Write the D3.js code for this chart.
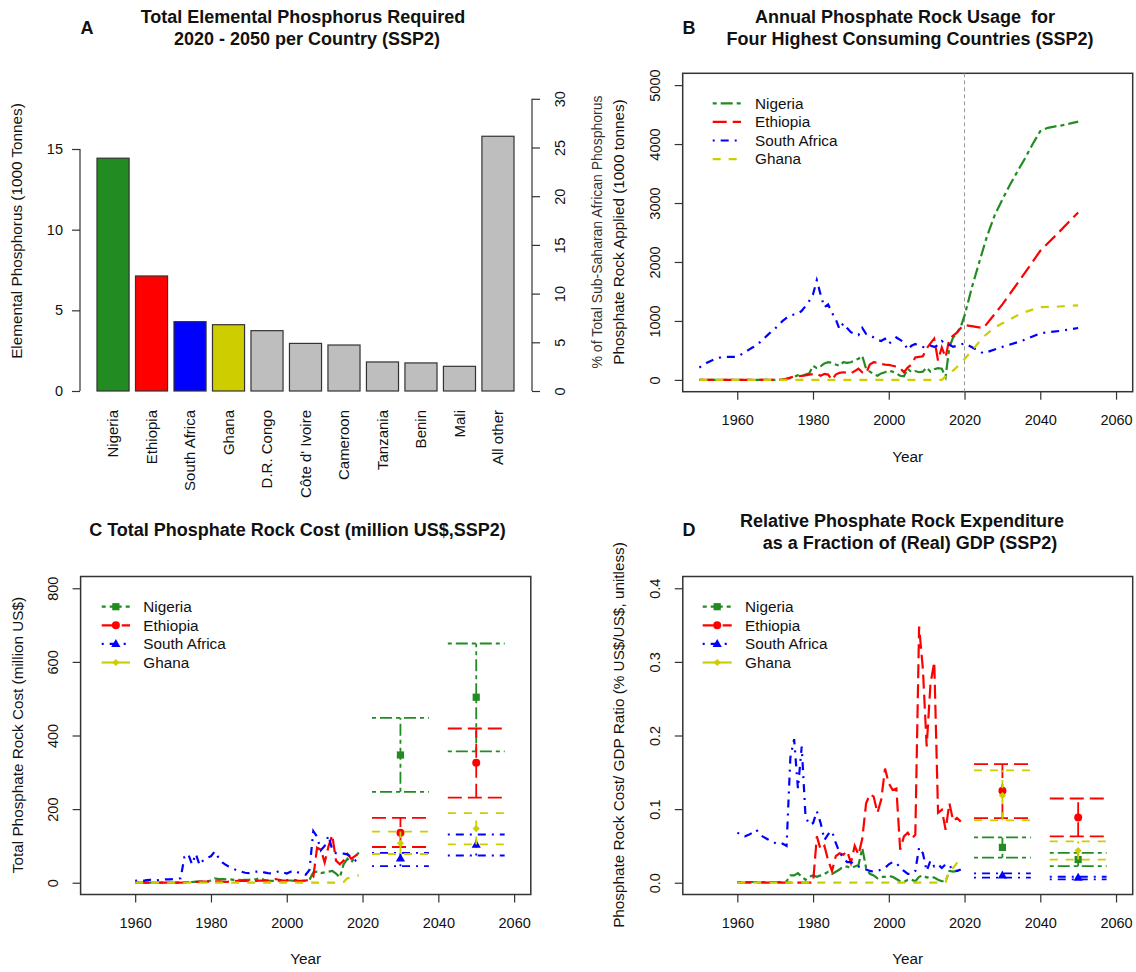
<!DOCTYPE html>
<html><head><meta charset="utf-8">
<script src="https://cdn.jsdelivr.net/npm/d3@7"></script>
<style>
body{margin:0;background:#fff}
svg{font-family:"Liberation Sans",Arial,sans-serif}
text{fill:#111}
</style></head><body>
<svg id="c" width="1136" height="972"></svg>
<script>
// ---------------- DATA ----------------
const countries = ["Nigeria","Ethiopia","South Africa","Ghana"];
// Panel A
const barCategories = ["Nigeria","Ethiopia","South Africa","Ghana","D.R. Congo","Côte d' Ivoire","Cameroon","Tanzania","Benin","Mali","All other"];
const barValues = [14.43,7.13,4.30,4.11,3.74,2.95,2.85,1.80,1.74,1.53,15.79];
const barLeftTicks = [0,5,10,15];
const barRightTicks = [0,5,10,15,20,25,30];

// Panel B (1000 tonnes), historical 1950-2019
const histYearsB = d3.range(1950, 2020);
const nigeriaB = [0,0,0,0,0,0,0,0,0,0, 0,0,0,0,0,0,0,0,0,0, 0,0,
  10,20,30,50,80,70,90,110,240,200, 230,280,300,290,260,240,300,290,300,330,
  360,410,190,140,100,70,110,130,160,140, 110,70,60,190,130,150,130,140,210,140,
  180,200,190,50,560,720,800,900];
const ethiopiaB = [0,0,0,0,0,0,0,0,0,0, 0,0,0,0,0,0,0,0,0,0, 0,0,0,
  20,40,55,60,70,75,90,100,100,70, 100,90,0,90,120,130,120,110,150,190,
  130,110,260,300,290,270,260,255,240,225, 200,130,210,260,380,390,400,530,620,700,
  330,550,380,700,750,800,880];
const southAfricaB = [210,250,290,320,350,370,390,390,390,390,
  395,430,470,510,550,580,640,700,760,820,
  870,940,1000,1050,1090,1110,1120,1170,1250,1340,
  1450,1690,1450,1230,1280,1140,1030,860,960,880,
  810,780,760,880,780,760,720,680,660,700,
  610,670,720,680,640,510,580,610,580,560,
  550,580,560,590,660,610,600,560,580,600];
const ghanaB = [0,0,0,0,0,0,0,0,0,0, 0,0,0,0,0,0,0,0,0,0, 0,0,0,0,0,0,0,0,0,0,
  0,0,0,0,0,0,0,0,0,0, 0,0,0,0,0,0,0,0,0,0, 0,0,0,0,0,0,0,0,0,0,
  0,0,0,0,0,60,130,160,220,290];
// Panel B projections
const nigeriaProjYears = [2020,2022,2024,2026,2028,2030,2032,2034,2036,2038,2040,2042,2044,2046,2048,2050];
const nigeriaProj = [1090,1580,2020,2450,2800,3060,3310,3540,3760,4000,4220,4275,4300,4320,4350,4380];
const ethiopiaProjYears = [2020,2025,2030,2035,2040,2045,2050];
const ethiopiaProj = [930,880,1280,1730,2190,2510,2840];
const southAfricaProjYears = [2020,2025,2030,2035,2040,2045,2050];
const southAfricaProj = [620,450,560,660,790,830,880];
const ghanaProjYears = [2020,2022,2025,2028,2030,2035,2040,2045,2050];
const ghanaProj = [355,500,730,890,960,1130,1235,1245,1265];
const yTicksB = [0,1000,2000,3000,4000,5000];
const xTicks = [1960,1980,2000,2020,2040,2060];

// Panel C (million US$), 1960-2019
const histYearsCD = d3.range(1960, 2020);
const nigeriaC = [0,0,0,0,0,0,0,0,0,0, 0,0,0,1,2,2,3,3,3,4,
  6,12,10,10,9,9,8,8,7,8, 8,9,10,12,8,6,5,5,5,6,
  6,6,5,4,5,6,8,28,30,26, 28,30,32,25,14,50,65,55,70,82];
const ethiopiaC = [0,0,0,0,0,0,0,0,0,0, 0,0,0,1,2,2,2,3,3,3,
  3,4,4,3,2,3,4,5,5,5, 5,4,5,6,5,6,9,10,8,6,
  6,11,8,5,5,6,8,15,95,90, 55,98,130,60,50,60,78,65,72,80];
const southAfricaC = [5,6,5,7,8,6,7,8,9,9, 10,11,12,70,78,50,78,48,62,68,
  72,85,68,55,48,42,38,32,30,27, 26,28,30,32,28,26,25,27,32,28,
  25,30,33,28,25,22,35,140,125,88, 100,128,90,80,78,79,77,70,62,48];
const ghanaC = [0,0,0,0,0,0,0,0,0,0, 0,0,0,0,0,0,0,0,0,0,
  0,0,0,0,0,0,0,0,0,0, 0,0,0,0,0,0,0,0,0,0,
  0,0,0,0,0,0,0,0,0,0, 0,0,0,0,0,2,12,14,17,20];
const projYearsCD = [2030,2050];
const nigeriaCmid = [347,504], nigeriaClo = [247,357], nigeriaChi = [448,650];
const ethiopiaCmid = [136,326], ethiopiaClo = [97,231], ethiopiaChi = [176,419];
const southAfricaCmid = [66,103], southAfricaClo = [45,74], southAfricaChi = [81,131];
const ghanaCmid = [107,147], ghanaClo = [78,104], ghanaChi = [139,189];
const yTicksC = [0,200,400,600,800];

// Panel D (ratio), 1960-2019
const nigeriaD = [0.001,0.001,0.001,0.001,0.001,0.001,0.001,0.001,0.001,0.001,
  0.001,0.001,0.001,0.002,0.010,0.010,0.013,0.008,0.004,0.008,
  0.010,0.008,0.010,0.012,0.015,0.012,0.015,0.018,0.022,0.022,
  0.020,0.022,0.024,0.047,0.020,0.012,0.010,0.006,0.008,0.008,
  0.009,0.008,0.005,0.002,0.001,0.004,0.004,0.002,0.008,0.010,
  0.007,0.008,0.007,0.004,0.002,0.002,0.016,0.015,0.016,0.018];
const ethiopiaD = [0,0,0,0,0,0,0,0,0,0, 0,0,0,0,0,0,0,0,0,0,
  0,0.063,0.045,0.050,0.030,0.016,0.036,0.040,0.038,0.043,
  0.027,0.050,0.038,0.060,0.108,0.120,0.117,0.095,0.113,0.155,
  0.135,0.126,0.128,0.045,0.063,0.068,0.060,0.065,0.348,0.290,
  0.185,0.270,0.300,0.095,0.099,0.072,0.108,0.084,0.088,0.083];
const southAfricaD = [0.068,0.065,0.063,0.065,0.068,0.072,0.065,0.062,0.059,0.056,
  0.054,0.052,0.053,0.050,0.170,0.195,0.128,0.185,0.090,0.079,
  0.081,0.097,0.081,0.058,0.066,0.070,0.054,0.041,0.034,0.028,
  0.028,0.025,0.022,0.020,0.018,0.016,0.015,0.016,0.018,0.020,
  0.025,0.028,0.027,0.020,0.016,0.012,0.012,0.016,0.048,0.040,
  0.016,0.030,0.022,0.025,0.020,0.025,0.024,0.016,0.016,0.018];
const ghanaD = [0,0,0,0,0,0,0,0,0,0, 0,0,0,0,0,0,0,0,0,0,
  0,0,0,0,0,0,0,0,0,0, 0,0,0,0,0,0,0,0,0,0,
  0,0,0,0,0,0,0,0,0,0, 0,0,0,0,0,0.001,0.017,0.020,0.027,0.033];
const nigeriaDmid = [0.048,0.0315], nigeriaDlo = [0.034,0.0225], nigeriaDhi = [0.0617,0.0405];
const ethiopiaDmid = [0.125,0.0887], ethiopiaDlo = [0.0878,0.063], ethiopiaDhi = [0.161,0.1144];
const southAfricaDmid = [0.0099,0.0068], southAfricaDlo = [0.0068,0.0045], southAfricaDhi = [0.0126,0.0081];
const ghanaDmid = [0.1185,0.0437], ghanaDlo = [0.0847,0.0315], ghanaDhi = [0.1527,0.0563];
const yTicksD = [0,0.1,0.2,0.3,0.4];

// ---------------- STYLE ----------------
const COL = {"Nigeria":"#228B22","Ethiopia":"#FF0000","South Africa":"#0000FF","Ghana":"#CDCD00"};
const DASH = {"Nigeria":"4,4,12,4","Ethiopia":"14,6","South Africa":"2,6,8,6","Ghana":"8,8"};
const barFill = ["#228B22","#FF0000","#0000FF","#CDCD00","#BEBEBE","#BEBEBE","#BEBEBE","#BEBEBE","#BEBEBE","#BEBEBE","#BEBEBE"];
const FS_TICK = 14.5, FS_LAB = 15.3, FS_TITLE = 18;
const svg = d3.select("#c");

function ext(lim){const d=(lim[1]-lim[0])*0.04;return [lim[0]-d, lim[1]+d];}

function txt(x,y,s,opt={}){
  const t = svg.append("text").attr("x",x).attr("y",y).text(s)
    .style("font-size",(opt.size||FS_LAB)+"px")
    .attr("text-anchor",opt.anchor||"middle");
  if(opt.bold) t.style("font-weight","bold");
  if(opt.rot) t.attr("transform",`rotate(-90,${x},${y})`).attr("dy","0.35em");
  if(opt.pre) t.style("white-space","pre");
  if(opt.fill) t.style("fill",opt.fill);
  return t;
}

function styleAxis(g){
  g.selectAll(".tick line").attr("stroke","#333").attr("stroke-width",1.2);
  g.selectAll(".tick text").style("font-size",FS_TICK+"px").style("font-family","Liberation Sans, Arial, sans-serif").attr("fill","#111");
}

// ---------------- PANEL A ----------------
const xA = d3.scaleBand().domain(barCategories).range([97,514]).paddingInner(0.2/1.2).paddingOuter(0);
const yA = d3.scaleLinear().domain([0,15]).range([391,149]);
const totalA = d3.sum(barValues);
const yAR = d3.scaleLinear().domain([0,100]).range([yA(0), yA(totalA)]);
const gA = svg.append("g");
gA.selectAll("rect").data(barValues).join("rect")
  .attr("x",(d,i)=>xA(barCategories[i])).attr("width",xA.bandwidth())
  .attr("y",d=>yA(d)).attr("height",d=>yA(0)-yA(d))
  .attr("fill",(d,i)=>barFill[i]).attr("stroke","#333").attr("stroke-width",1.2);
const axA = gA.append("g").attr("transform","translate(80,0)")
  .call(d3.axisLeft(yA).tickValues(barLeftTicks).tickSize(8).tickPadding(9).tickSizeOuter(0));
axA.select(".domain").remove();
axA.append("line").attr("x1",0).attr("x2",0).attr("y1",yA(0)).attr("y2",yA(15)).attr("stroke","#333").attr("stroke-width",1.2);
styleAxis(axA);
const axAR = gA.append("g").attr("transform","translate(532,0)")
  .call(d3.axisRight(yAR).tickValues(barRightTicks).tickSize(8).tickSizeOuter(0));
axAR.select(".domain").remove();
axAR.append("line").attr("x1",0).attr("x2",0).attr("y1",yAR(0)).attr("y2",yAR(30)).attr("stroke","#333").attr("stroke-width",1.2);
styleAxis(axAR);
axAR.selectAll(".tick text").attr("x",0).attr("y",28).attr("dy","0.35em").attr("transform","rotate(-90)").style("text-anchor","middle");
barCategories.forEach((c,i)=>{
  const cx = xA(c)+xA.bandwidth()/2;
  svg.append("text").text(c).attr("transform",`translate(${cx},410) rotate(-90)`)
    .attr("dy","0.35em").attr("text-anchor","end").style("font-size","15px");
});
txt(87,34,"A",{bold:true,size:FS_TITLE});
txt(303,23,"Total Elemental Phosphorus Required",{bold:true,size:FS_TITLE});
txt(307,45,"2020 - 2050 per Country (SSP2)",{bold:true,size:FS_TITLE});
txt(17,231,"Elemental Phosphorus (1000 Tonnes)",{rot:true});
txt(597,232,"% of Total Sub-Saharan African Phosphorus",{rot:true,size:14,fill:"#333"});

// ---------------- generic framed panel ----------------
function frame(box, xlim, ylim, yTicks, yFmt){
  const x = d3.scaleLinear().domain(ext(xlim)).range([box.x0, box.x1]);
  const y = d3.scaleLinear().domain(ext(ylim)).range([box.y1, box.y0]);
  const g = svg.append("g");
  const ax = g.append("g").attr("transform",`translate(0,${box.y1})`)
    .call(d3.axisBottom(x).tickValues(xTicks).tickFormat(d3.format("d")).tickSize(8).tickSizeOuter(0));
  ax.select(".domain").remove(); styleAxis(ax);
  ax.selectAll(".tick text").attr("y",28).attr("dy","0.35em");
  const ay = g.append("g").attr("transform",`translate(${box.x0},0)`)
    .call(d3.axisLeft(y).tickValues(yTicks).tickFormat(yFmt).tickSize(8).tickSizeOuter(0));
  ay.select(".domain").remove(); styleAxis(ay);
  ay.selectAll(".tick text").attr("x",0).attr("y",-28).attr("dy","0.35em").attr("transform","rotate(-90)").style("text-anchor","middle");
  g.append("rect").attr("x",box.x0).attr("y",box.y0).attr("width",box.x1-box.x0).attr("height",box.y1-box.y0)
    .attr("fill","none").attr("stroke","#333").attr("stroke-width",1.5);
  return {x,y,g};
}
function seriesLine(P, xs, ys, c){
  const pts = xs.map((v,i)=>[v,ys[i]]);
  P.g.append("path").attr("d", d3.line().x(d=>P.x(d[0])).y(d=>P.y(d[1]))(pts))
    .attr("fill","none").attr("stroke",COL[c]).attr("stroke-width",2.2).attr("stroke-dasharray",DASH[c]);
}
function marker(g, c, cx, cy){
  if(c==="Nigeria") g.append("rect").attr("x",cx-3.6).attr("y",cy-3.6).attr("width",7.2).attr("height",7.2).attr("fill",COL[c]);
  else if(c==="Ethiopia") g.append("circle").attr("cx",cx).attr("cy",cy).attr("r",4).attr("fill",COL[c]);
  else if(c==="South Africa") g.append("path").attr("d",`M${cx},${cy-5}L${cx+4.6},${cy+3}L${cx-4.6},${cy+3}Z`).attr("fill",COL[c]);
  else g.append("path").attr("d",`M${cx},${cy-3.6}L${cx+3.6},${cy}L${cx},${cy+3.6}L${cx-3.6},${cy}Z`).attr("fill",COL[c]);
}
function errBars(P, c, mid, lo, hi){
  projYearsCD.forEach((yr,i)=>{
    const st = l=>l.attr("stroke",COL[c]).attr("stroke-width",1.8).attr("stroke-dasharray",DASH[c]).attr("fill","none");
    st(P.g.append("line").attr("x1",P.x(yr)).attr("x2",P.x(yr)).attr("y1",P.y(lo[i])).attr("y2",P.y(hi[i])));
    st(P.g.append("line").attr("x1",P.x(yr-7.5)).attr("x2",P.x(yr+7.5)).attr("y1",P.y(hi[i])).attr("y2",P.y(hi[i])));
    st(P.g.append("line").attr("x1",P.x(yr-7.5)).attr("x2",P.x(yr+7.5)).attr("y1",P.y(lo[i])).attr("y2",P.y(lo[i])));
    marker(P.g, c, P.x(yr), P.y(mid[i]));
  });
}
function legend(x0, x1, xt, y0, withMarkers){
  countries.forEach((c,i)=>{
    const yy = y0 + i*18.6;
    svg.append("line").attr("x1",x0).attr("x2",x1).attr("y1",yy).attr("y2",yy)
      .attr("stroke",COL[c]).attr("stroke-width",2.2)
      .attr("stroke-dasharray",(withMarkers && c==="Ghana") ? null : DASH[c]);
    if(withMarkers) marker(svg, c, (x0+x1)/2, yy);
    txt(xt, yy, c, {anchor:"start"}).attr("dy","0.35em");
  });
}

// ---------------- PANEL B ----------------
const PB = frame({x0:682.7,x1:1132.7,y0:73.3,y1:391.7},[1950,2060],[0,5000],yTicksB,d3.format("d"));
PB.g.append("line").attr("x1",PB.x(2020)).attr("x2",PB.x(2020)).attr("y1",73.3).attr("y2",391.7)
  .attr("stroke","#999").attr("stroke-width",1).attr("stroke-dasharray","4,3");
seriesLine(PB, histYearsB.concat(nigeriaProjYears), nigeriaB.concat(nigeriaProj), "Nigeria");
seriesLine(PB, histYearsB.concat(ethiopiaProjYears), ethiopiaB.concat(ethiopiaProj), "Ethiopia");
seriesLine(PB, histYearsB.concat(southAfricaProjYears), southAfricaB.concat(southAfricaProj), "South Africa");
seriesLine(PB, histYearsB.concat(ghanaProjYears), ghanaB.concat(ghanaProj), "Ghana");
legend(712.7, 741, 755, 103.3, false);
txt(689,34,"B",{bold:true,size:FS_TITLE});
txt(905,23,"Annual Phosphate Rock Usage  for",{bold:true,size:FS_TITLE,pre:true});
txt(910,45,"Four Highest Consuming Countries (SSP2)",{bold:true,size:FS_TITLE});
txt(618.5,232,"Phosphate Rock Applied (1000 tonnes)",{rot:true});
txt(907.7,462,"Year");

// ---------------- PANEL C ----------------
const PC = frame({x0:80.6,x1:530.8,y0:576.5,y1:894.5},[1950,2060],[0,800],yTicksC,d3.format("d"));
seriesLine(PC, histYearsCD, nigeriaC, "Nigeria");
seriesLine(PC, histYearsCD, ethiopiaC, "Ethiopia");
seriesLine(PC, histYearsCD, southAfricaC, "South Africa");
seriesLine(PC, histYearsCD, ghanaC, "Ghana");
errBars(PC, "Nigeria", nigeriaCmid, nigeriaClo, nigeriaChi);
errBars(PC, "Ethiopia", ethiopiaCmid, ethiopiaClo, ethiopiaChi);
errBars(PC, "South Africa", southAfricaCmid, southAfricaClo, southAfricaChi);
errBars(PC, "Ghana", ghanaCmid, ghanaClo, ghanaChi);
legend(101.7, 130, 143.3, 606.7, true);
txt(297.5,536,"C Total Phosphate Rock Cost (million US$,SSP2)",{bold:true,size:FS_TITLE});
txt(17.3,735,"Total Phosphate Rock Cost (million US$)",{rot:true});
txt(305.7,964,"Year");

// ---------------- PANEL D ----------------
const PD = frame({x0:682.8,x1:1132.7,y0:576.5,y1:894.5},[1950,2060],[0,0.4],yTicksD,d3.format(".1f"));
seriesLine(PD, histYearsCD, nigeriaD, "Nigeria");
seriesLine(PD, histYearsCD, ethiopiaD, "Ethiopia");
seriesLine(PD, histYearsCD, southAfricaD, "South Africa");
seriesLine(PD, histYearsCD, ghanaD, "Ghana");
errBars(PD, "Nigeria", nigeriaDmid, nigeriaDlo, nigeriaDhi);
errBars(PD, "Ethiopia", ethiopiaDmid, ethiopiaDlo, ethiopiaDhi);
errBars(PD, "South Africa", southAfricaDmid, southAfricaDlo, southAfricaDhi);
errBars(PD, "Ghana", ghanaDmid, ghanaDlo, ghanaDhi);
legend(702.7, 731.7, 745, 606.7, true);
txt(689,536,"D",{bold:true,size:FS_TITLE});
txt(902,527,"Relative Phosphate Rock Expenditure",{bold:true,size:FS_TITLE});
txt(910,549,"as a Fraction of (Real) GDP (SSP2)",{bold:true,size:FS_TITLE});
txt(618.5,735,"Phosphate Rock Cost/ GDP Ratio (% US$/US$, unitless)",{rot:true});
txt(907.7,964,"Year");
</script>
</body></html>
